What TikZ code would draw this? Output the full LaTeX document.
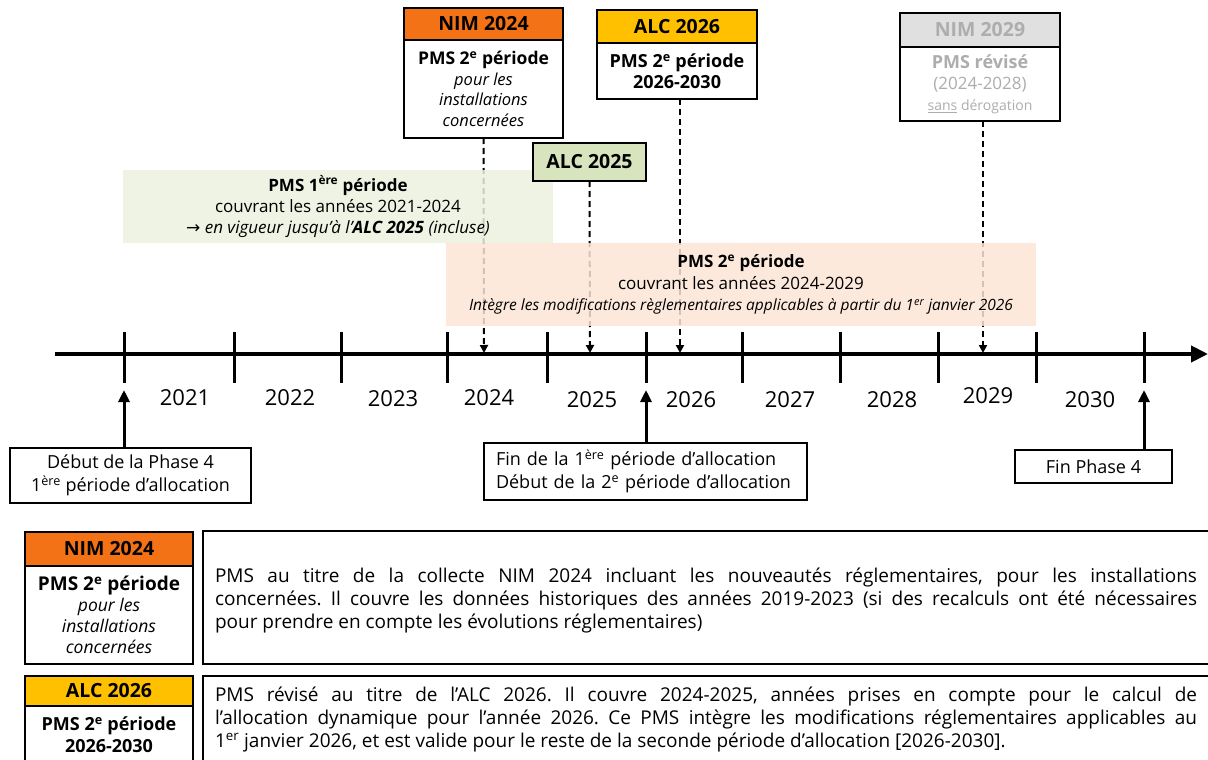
\documentclass[tikz,border=0pt]{standalone}
\usepackage{fontspec}
\setmainfont{Open Sans}
\newfontfamily\symfont{DejaVu Sans}
\usetikzlibrary{arrows.meta}

\definecolor{nimorange}{HTML}{F47216}
\definecolor{alcgold}{HTML}{FFC000}
\definecolor{alcgreen}{HTML}{D7E4BD}
\definecolor{bandgreen}{HTML}{EBF1DE}
\definecolor{bandpeach}{HTML}{FBE5D6}
\definecolor{greyhead}{HTML}{E0E0E0}
\definecolor{greytext}{HTML}{ADADAD}

\newcommand{\fs}[2]{\fontsize{#1}{#2}\selectfont}
\newcommand{\ord}[1]{\textsuperscript{#1}}
\frenchspacing

\begin{document}
\begin{tikzpicture}[x=1pt,y=-1pt,
  every node/.style={inner sep=0pt, outer sep=0pt},
  frame/.style={draw=black, line width=1.5pt, fill=white, align=center},
  head/.style={frame, font=\fs{19.5}{22}\bfseries},
  band/.style={fill opacity=0.85, text opacity=1, align=center, draw=none},
  guide/.style={line width=2pt, dash pattern=on 6pt off 4pt, -{Triangle[length=8pt,width=8pt]}},
  rise/.style={line width=3pt, -{Triangle[length=12pt,width=11pt]}},
  axisline/.style={line width=4pt, -{Triangle[length=17pt,width=16pt]}},
  tickmark/.style={line width=3pt},
  year/.style={font=\fs{22}{26}},
  note/.style={frame, font=\fs{18}{23}},
  para/.style={anchor=north west, text width=982pt, align=justify, font=\fs{19}{23}}
]
\useasboundingbox (0,0) rectangle (1208,760);
\clip (0,0) rectangle (1208,760);

% ---------- axis points ----------
\coordinate (axL) at (55,354);
\coordinate (axR) at (1208,354);
\coordinate (hitNIM24) at (484,353);
\coordinate (hitALC25) at (590,353);
\coordinate (hitALC26) at (680,353);
\coordinate (hitNIM29) at (983,353);
\coordinate (up21) at (124,390);
\coordinate (up26) at (646,390);
\coordinate (up30) at (1144,390);

% ---------- top event boxes ----------
\node[head, fill=nimorange, minimum width=159pt, minimum height=32pt] (nim24h) at (483.5,24) {NIM 2024};
\node[frame, minimum width=159pt, minimum height=98pt, anchor=north, font=\fs{16.5}{20.5}\itshape] (nim24b) at (nim24h.south)
  {{\fs{17.5}{20.5}\upshape\bfseries PMS 2\ord{e} période}\\pour les\\installations\\concernées};

\node[head, fill=alcgold, minimum width=160pt, minimum height=33pt] (alc26h) at (677,26.5) {ALC 2026};
\node[frame, minimum width=160pt, minimum height=56pt, anchor=north, font=\fs{18}{21}\bfseries] (alc26b) at (alc26h.south)
  {PMS 2\ord{e} période\\2026-2030};

\node[head, fill=greyhead, text=greytext, minimum width=160pt, minimum height=34pt] (nim29h) at (980,30) {NIM 2029};
\node[frame, text=greytext, minimum width=160pt, minimum height=74pt, anchor=north, font=\fs{17}{21}] (nim29b) at (nim29h.south)
  {{\fs{18}{21}\bfseries PMS révisé}\\(2024-2028)\\{\fs{14}{18}\underline{sans} dérogation}};

\node[head, fill=alcgreen, minimum width=113pt, minimum height=38pt] (alc25) at (589.5,162) {ALC 2025};

% ---------- dashed guides down to the axis ----------
\draw[guide] (nim24b.south) -- (hitNIM24);
\draw[guide] (alc25.south) -- (hitALC25);
\draw[guide] (alc26b.south -| hitALC26) -- (hitALC26);
\draw[guide] (nim29b.south -| hitNIM29) -- (hitNIM29);

% ---------- period bands ----------
\node[band, fill=bandgreen, minimum width=430pt, minimum height=73pt, font=\fs{17}{21}] (pms1) at (338,206.5)
  {{\bfseries PMS 1\ord{ère} période}\\couvrant les années 2021-2024\\
   {\fs{17}{20}\itshape {\symfont →} en vigueur jusqu’à l’\textbf{ALC 2025} (incluse)}};
\node[band, fill=bandpeach, minimum width=590pt, minimum height=83pt, font=\fs{17}{21.5}] (pms2) at (741,284.5)
  {{\bfseries PMS 2\ord{e} période}\\couvrant les années 2024-2029\\
   {\fs{15.5}{21.5}\itshape Intègre les modifications règlementaires applicables à partir du 1\ord{er} janvier 2026}};

% the ALC 2025 box sits above the green band
\node[head, fill=alcgreen, minimum width=113pt, minimum height=38pt] at (alc25) {ALC 2025};

% ---------- timeline ----------
\draw[axisline] (axL) -- (axR);
\foreach \x in {124,234,341,447,547,646,742,840,938,1036,1144}
  \draw[tickmark] (\x,332) -- (\x,383);

\node[year] (y21) at (185,398) {2021};
\node[year] (y22) at (290,398) {2022};
\node[year] (y23) at (393,399) {2023};
\node[year] (y24) at (489,398) {2024};
\node[year] (y25) at (592,400) {2025};
\node[year] (y26) at (691,400) {2026};
\node[year] (y27) at (790,400) {2027};
\node[year] (y28) at (892,400) {2028};
\node[year] (y29) at (988,396) {2029};
\node[year] (y30) at (1090,400) {2030};

% ---------- milestone boxes below the axis ----------
\node[note, minimum width=241pt, minimum height=55pt] (start4) at (130.5,475.5)
  {Début de la Phase 4\\1\ord{ère} période d’allocation};
\node[note, minimum width=323pt, minimum height=57pt, align=left, text width=299pt] (mid4) at (645.5,471.5)
  {Fin de la 1\ord{ère} période d’allocation\\Début de la 2\ord{e} période d’allocation};
\node[note, minimum width=157pt, minimum height=33pt] (end4) at (1093.5,466.5) {Fin Phase 4};

\draw[rise] (up21 |- start4.north) -- (up21);
\draw[rise] (up26 |- mid4.north) -- (up26);
\draw[rise] (up30 |- end4.north) -- (up30);

% ---------- legend table ----------
\node[head, fill=nimorange, minimum width=168pt, minimum height=34pt] (lnimh) at (109,549) {NIM 2024};
\node[frame, minimum width=168pt, minimum height=98pt, anchor=north, font=\fs{17.5}{21}\itshape] (lnimb) at (lnimh.south)
  {{\fs{19}{22}\upshape\bfseries PMS 2\ord{e} période}\\pour les\\installations\\concernées};
\node[frame, minimum width=1010pt, minimum height=133pt, anchor=north west] (lnimt) at (203,531) {};
\node[para] (lnimp) at (215,568)
  {PMS au titre de la collecte NIM 2024 incluant les nouveautés réglementaires, pour les installations\linebreak
   concernées. Il couvre les données historiques des années 2019-2023 (si des recalculs ont été nécessaires\linebreak
   pour prendre en compte les évolutions réglementaires)};

\node[head, fill=alcgold, minimum width=168pt, minimum height=30pt] (lalch) at (109,691) {ALC 2026};
\node[frame, minimum width=168pt, minimum height=58pt, anchor=north, font=\fs{18}{22}\bfseries] (lalcb) at (lalch.south)
  {PMS 2\ord{e} période\\2026-2030};
\node[frame, minimum width=1010pt, minimum height=95pt, anchor=north west] (lalct) at (203,676) {};
\node[para] (lalcp) at (215,686.5)
  {PMS révisé au titre de l’ALC 2026. Il couvre 2024-2025, années prises en compte pour le calcul de\linebreak
   l’allocation dynamique pour l’année 2026. Ce PMS intègre les modifications réglementaires applicables au\linebreak
   1\ord{er} janvier 2026, et est valide pour le reste de la seconde période d’allocation [2026-2030].};
\end{tikzpicture}
\end{document}
